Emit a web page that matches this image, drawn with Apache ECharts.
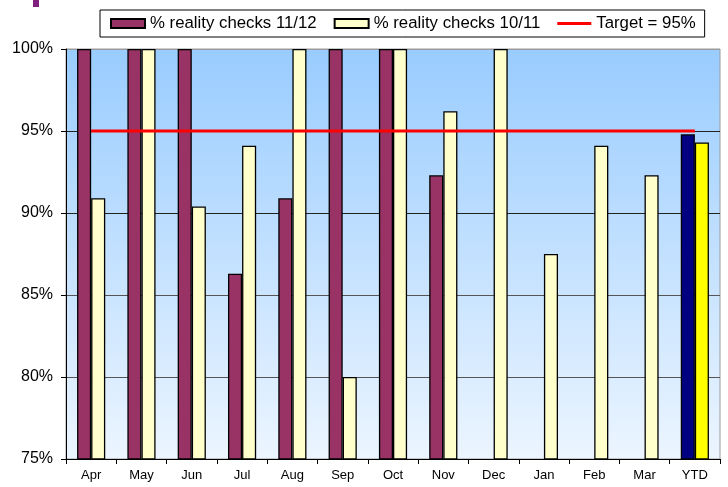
<!DOCTYPE html>
<html>
<head>
<meta charset="utf-8">
<script src="https://cdn.jsdelivr.net/npm/echarts@6/dist/echarts.min.js"></script>
<style>
html,body{margin:0;padding:0;background:#fff;}
#c{width:728px;height:487px;}
</style>
</head>
<body>
<div id="c"></div>
<script>
var categories = ['Apr','May','Jun','Jul','Aug','Sep','Oct','Nov','Dec','Jan','Feb','Mar','YTD'];
var checks1112 = [100, 100, 100, 86.3, 90.9, 100, 100, 92.3, null, null, null, null, 94.8];
var checks1011 = [90.9, 100, 90.4, 94.1, 100, 80, 100, 96.2, 100, 87.5, 94.1, 92.3, 94.3];
var target = [95, 95, 95, 95, 95, 95, 95, 95, 95, 95, 95, 95, 95];
var seriesNames = ['% reality checks 11/12', '% reality checks 10/11', 'Target = 95%'];
var yTicks = {min: 75, max: 100, interval: 5};

var font = "'Liberation Sans', Arial, sans-serif";
var last = categories.length - 1;
var s1 = checks1112.map(function (v, i) {
  return i === last ? {value: v, itemStyle: {color: '#000080'}} : v;
});
var s2 = checks1011.map(function (v, i) {
  return i === last ? {value: v, itemStyle: {color: '#FFFF00'}} : v;
});

var chart = echarts.init(document.getElementById('c'), null, {renderer: 'canvas'});
chart.setOption({
  animation: false,
  backgroundColor: '#ffffff',
  textStyle: {fontFamily: font},
  graphic: [{
    type: 'rect', left: 33, top: 0,
    shape: {width: 6, height: 7},
    style: {fill: '#80207f'}
  }],
  legend: {
    data: [
      {name: seriesNames[0], icon: 'rect'},
      {name: seriesNames[1], icon: 'rect'},
      {name: seriesNames[2], icon: 'path://M0,0 L34,0 L34,0.01 L0,0.01 Z M0,3 L34,3 L34,6 L0,6 Z M0,8.99 L34,8.99 L34,9 L0,9 Z',
       itemStyle: {borderWidth: 0}}
    ],
    left: 100, top: 10,
    itemWidth: 34, itemHeight: 9, itemGap: 17,
    padding: [5, 9, 5, 10],
    borderColor: '#000', borderWidth: 1,
    backgroundColor: '#fff',
    textStyle: {fontFamily: font, fontSize: 16.8, color: '#000'}
  },
  grid: {
    left: 66, right: 8, top: 49, bottom: 28,
    show: true,
    borderColor: '#9a9a9a', borderWidth: 1,
    backgroundColor: {
      type: 'linear', x: 0, y: 0, x2: 0, y2: 1,
      colorStops: [{offset: 0, color: '#99CCFF'}, {offset: 1, color: '#ECF5FF'}]
    }
  },
  xAxis: {
    type: 'category',
    data: categories,
    boundaryGap: true,
    axisLine: {lineStyle: {color: '#000', width: 1}},
    axisTick: {show: true, length: 5, lineStyle: {color: '#000'}},
    axisLabel: {fontFamily: font, fontSize: 13, color: '#000', margin: 10}
  },
  yAxis: {
    type: 'value',
    min: yTicks.min, max: yTicks.max, interval: yTicks.interval,
    axisLine: {show: true, lineStyle: {color: '#000', width: 1}},
    axisTick: {show: true, length: 5, lineStyle: {color: '#000'}},
    axisLabel: {fontFamily: font, fontSize: 16, color: '#000', margin: 13, formatter: '{value}%'},
    splitLine: {show: true, lineStyle: {color: ['#000', '#555', '#555', '#222', '#222', '#9a9a9a'], width: 1}}
  },
  series: [
    {
      name: seriesNames[0], type: 'bar', data: s1,
      barGap: '0%', barCategoryGap: '44%',
      itemStyle: {color: '#993366', borderColor: '#000', borderWidth: 1.3}
    },
    {
      name: seriesNames[1], type: 'bar', data: s2,
      barGap: '0%', barCategoryGap: '44%',
      itemStyle: {color: '#FFFFCC', borderColor: '#000', borderWidth: 1.3}
    },
    {
      name: seriesNames[2], type: 'line', data: target,
      symbol: 'none', showSymbol: false,
      lineStyle: {color: '#FF0000', width: 3},
      itemStyle: {color: '#FF0000'},
      z: 5
    }
  ]
});
</script>
</body>
</html>
